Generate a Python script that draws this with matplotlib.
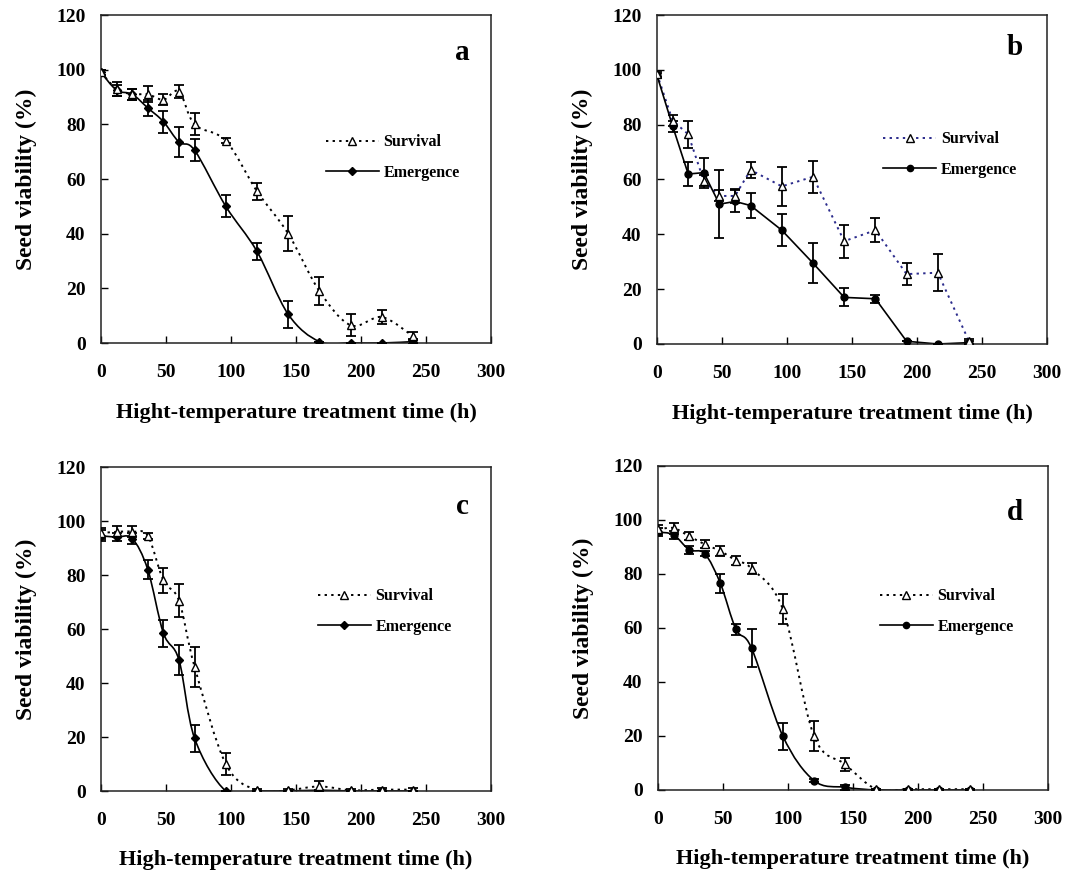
import numpy as np
import matplotlib
matplotlib.use("Agg")
import matplotlib.pyplot as plt
from matplotlib.path import Path
from matplotlib.patches import PathPatch
from matplotlib.lines import Line2D

plt.rcParams['font.family'] = ['Liberation Serif', 'DejaVu Serif']
plt.rcParams['font.weight'] = 'bold'

# ---------------- data ----------------
hours = [0, 12, 24, 36, 48, 60, 72, 96, 120, 144, 168, 192, 216, 240]

a_surv = [99, 93, 91, 91, 89, 92, 80, 74, 55.5, 40, 19, 6.5, 9.5, 2.5]
a_surv_err = [1, 2.5, 2, 3, 2, 2.5, 4, 1, 3, 6.5, 5, 4, 2.5, 1.5]
a_emer = [99, 92.5, 91, 86, 81, 73.5, 70.5, 50, 33.5, 10.5, 0.5, 0, 0, 0.5]
a_emer_err = [1, 2, 2, 3, 4, 5.5, 4, 4, 3, 5, 0, 0, 0, 1]

b_surv = [98.5, 81.5, 76.5, 59.5, 54, 54, 63.5, 57.5, 61, 37.5, 41.5, 25.5, 26, 1]
b_surv_err = [1, 2, 5, 2, 2, 2.5, 3, 7, 5.8, 6, 4.4, 4, 6.7, 1]
b_emer = [98, 79.5, 62, 62.5, 51, 52, 50.5, 41.5, 29.5, 17, 16.5, 1, 0, 0.5]
b_emer_err = [1, 2, 4.5, 5.5, 12.5, 4, 4.5, 5.8, 7.3, 3.3, 1.5, 0, 0, 0.5]

c_surv = [95.5, 96, 96, 94.5, 78, 70.5, 46, 10, 0.3, 0.3, 1.7, 0.3, 0.5, 0.5]
c_surv_err = [2, 2, 2, 1, 4.5, 6, 7.5, 4, 0.5, 0.5, 2, 0.5, 0.5, 0.5]
c_emer = [94.5, 94, 93.5, 82, 58.5, 48.5, 19.5, 0, 0, 0, 0.3, 0, 0, 0]
c_emer_err = [2, 1.5, 2, 3.5, 5, 5.5, 5, 0, 0, 0, 0, 0, 0, 0]

d_surv = [96.5, 97, 94, 91, 88.5, 85, 82, 67, 20, 9.5, 0.3, 0.3, 0.3, 0.3]
d_surv_err = [1.5, 2, 1.5, 1.5, 2, 1.5, 2, 5.5, 5.5, 2.5, 0, 0, 0, 0]
d_emer = [95.5, 94.5, 89, 87.5, 76.5, 59.5, 52.5, 20, 3.5, 1, 0, 0, 0, 0]
d_emer_err = [1.5, 1.5, 1.5, 1, 3.5, 2, 7, 5, 0.5, 1, 0, 0, 0, 0]

panel_letters = ['a', 'b', 'c', 'd']
xlabels = ['Hight-temperature treatment time (h)', 'Hight-temperature treatment time (h)',
           'High-temperature treatment time (h)', 'High-temperature treatment time (h)']
ylabel = 'Seed viability (%)'
series_names = ['Survival', 'Emergence']

# ---------------- helpers ----------------
def smooth_path(x, y):
    """Catmull-Rom style Bezier path through the data points (Excel smoothed line)."""
    x = np.asarray(x, float); y = np.asarray(y, float)
    n = len(x)
    verts = [(x[0], y[0])]
    codes = [Path.MOVETO]
    for i in range(n - 1):
        p0 = np.array([x[max(i - 1, 0)], y[max(i - 1, 0)]])
        p1 = np.array([x[i], y[i]])
        p2 = np.array([x[i + 1], y[i + 1]])
        p3 = np.array([x[min(i + 2, n - 1)], y[min(i + 2, n - 1)]])
        c1 = p1 + (p2 - p0) / 6.0
        c2 = p2 - (p3 - p1) / 6.0
        verts += [tuple(c1), tuple(c2), tuple(p2)]
        codes += [Path.CURVE4] * 3
    return Path(verts, codes)

panels = [
    (a_surv, a_surv_err, a_emer, a_emer_err, True, 'black', 'D', 4.5),
    (b_surv, b_surv_err, b_emer, b_emer_err, False, '#2b2b8c', 'o', 5),
    (c_surv, c_surv_err, c_emer, c_emer_err, True, 'black', 'D', 4.5),
    (d_surv, d_surv_err, d_emer, d_emer_err, True, 'black', 'o', 5),
]

# axes rectangles in pixels: left, top, right, bottom
W, H = 1078, 873
rects_px = [(101, 15, 491, 343), (657, 15, 1047, 344),
            (101, 467, 491, 791), (658, 466, 1048, 790)]
legend_anchor = [(0.577, 0.566), (0.58, 0.576), (0.556, 0.554), (0.569, 0.551)]
letter_pos = [(0.926, 0.887), (0.918, 0.90), (0.926, 0.877), (0.915, 0.858)]

fig = plt.figure(figsize=(W / 100, H / 100), dpi=100)
dot_style = (0, (1.2, 2.2))

for k, (surv, serr, emer, eerr, smooth, scol, emark, ems) in enumerate(panels):
    l, t, r, b = rects_px[k]
    ax = fig.add_axes([l / W, 1 - b / H, (r - l) / W, (b - t) / H])
    ax.set_xlim(0, 300)
    ax.set_ylim(0, 120)

    # lines
    if smooth:
        ax.add_patch(PathPatch(smooth_path(hours, surv), fill=False, edgecolor=scol,
                               lw=1.4, linestyle=dot_style, zorder=2))
        ax.add_patch(PathPatch(smooth_path(hours, emer), fill=False, edgecolor='black',
                               lw=1.2, zorder=2))
    else:
        ax.plot(hours, surv, color=scol, lw=1.4, linestyle=dot_style, zorder=2)
        ax.plot(hours, emer, color='black', lw=1.2, zorder=2)

    # error bars and markers
    ax.errorbar(hours, emer, yerr=eerr, fmt='none', ecolor='black', elinewidth=1.3,
                capsize=3.3, capthick=1.3, zorder=3)
    ax.errorbar(hours, surv, yerr=serr, fmt='none', ecolor='black', elinewidth=1.3,
                capsize=3.3, capthick=1.3, zorder=3)
    ax.plot(hours, emer, linestyle='none', marker=emark, ms=ems, color='black', zorder=4)
    ax.plot(hours, surv, linestyle='none', marker='^', ms=6, mfc='white', mec='black',
            mew=1.0, zorder=5)

    # axes styling
    ax.set_xticks(np.arange(0, 301, 50))
    ax.set_yticks(np.arange(0, 121, 20))
    ax.tick_params(direction='in', length=5, width=1, top=False, right=False,
                   labelsize=14, pad=11)
    ax.tick_params(axis='x', pad=15)
    for lab in ax.get_xticklabels() + ax.get_yticklabels():
        lab.set_fontweight('bold')
    for s in ax.spines.values():
        s.set_linewidth(1.1)
        s.set_color('#222222')

    ax.set_xlabel(xlabels[k], fontsize=16, fontweight='bold')
    ax.set_ylabel(ylabel, fontsize=17, fontweight='bold')
    ax.xaxis.set_label_coords(0.5, -0.183)
    ax.yaxis.set_label_coords(-0.164, 0.5)

    ax.text(letter_pos[k][0], letter_pos[k][1], panel_letters[k], transform=ax.transAxes,
            ha='center', va='center', fontsize=21, fontweight='bold')

    handles = [
        Line2D([0], [0], color=scol, lw=1.4, linestyle=dot_style, marker='^', ms=6,
               mfc='white', mec='black', mew=1.0),
        Line2D([0], [0], color='black', lw=1.2, marker=emark, ms=ems - 0.5),
    ]
    leg = ax.legend(handles, series_names, loc='center left',
                    bbox_to_anchor=legend_anchor[k], frameon=False, borderaxespad=0,
                    borderpad=0, handlelength=3.3, handletextpad=0.3, labelspacing=0.9,
                    prop={'size': 11.5, 'weight': 'bold'})

fig.savefig('out.png', dpi=100)
